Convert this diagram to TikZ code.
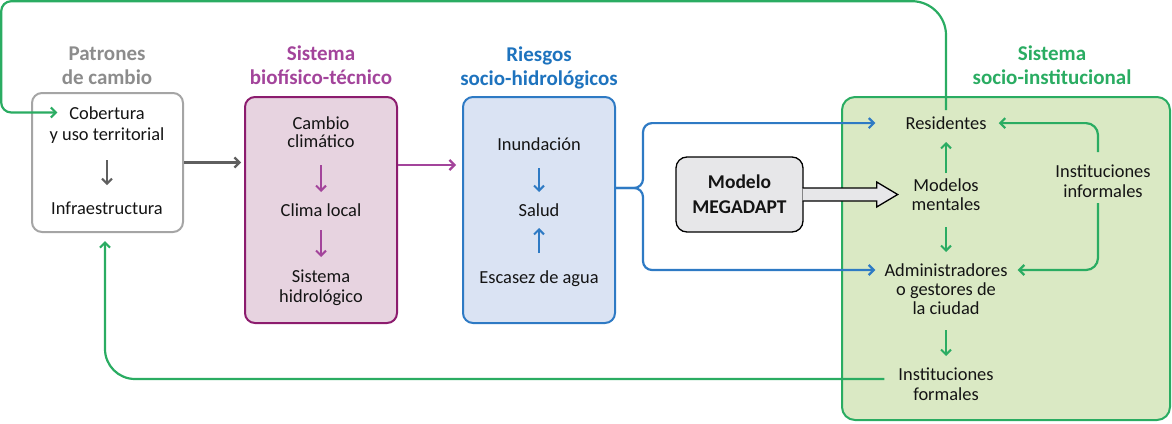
\documentclass[tikz,border=0pt]{standalone}
\usepackage{fontspec}
\setmainfont{Carlito}
\usetikzlibrary{arrows.meta,calc}
\definecolor{cGrayT}{RGB}{140,140,140}
\definecolor{cGrayB}{RGB}{165,165,165}
\definecolor{cGrayA}{RGB}{95,95,95}
\definecolor{cPurB}{RGB}{140,28,110}
\definecolor{cPurT}{RGB}{163,68,155}
\definecolor{cPurF}{RGB}{231,211,224}
\definecolor{cBluB}{RGB}{46,122,196}
\definecolor{cBluT}{RGB}{30,115,190}
\definecolor{cBluF}{RGB}{218,227,243}
\definecolor{cGrnB}{RGB}{42,172,98}
\definecolor{cGrnF}{RGB}{218,233,196}
\definecolor{cMegF}{RGB}{231,231,233}
\definecolor{cTxt}{RGB}{20,20,20}
\begin{document}
\begin{tikzpicture}[x=1pt,y=-1pt,
  sysbox/.style={draw, line width=2pt, rounded corners=10pt, inner sep=0pt},
  txt/.style={align=center, inner sep=0pt, text=cTxt, font=\fontsize{18.4}{20}\selectfont},
  ttl/.style={align=center, inner sep=0pt, font=\fontsize{21}{24}\selectfont\bfseries},
  arrtip/.style={-{Straight Barb[length=5pt,width=10pt]}},
  con/.style={line width=2.2pt, arrtip},
  inarr/.style={line width=2pt, arrtip},
]
\useasboundingbox (0,0) rectangle (1172,423);

% system boxes
\node[sysbox, draw=cGrayB, fill=white, minimum width=151pt, minimum height=139pt] (gb) at (107.5,162.5) {};
\node[sysbox, draw=cPurB, fill=cPurF, minimum width=152pt, minimum height=226pt] (pb) at (321,210) {};
\node[sysbox, draw=cBluB, fill=cBluF, minimum width=152pt, minimum height=226pt] (bb) at (539,210) {};
\node[sysbox, draw=cGrnB, fill=cGrnF, minimum width=328pt, minimum height=323pt, rounded corners=13pt] (sb) at (1006,258.5) {};
\node[sysbox, draw=black, line width=1.3pt, fill=cMegF, minimum width=127pt, minimum height=75pt, rounded corners=11pt, align=center, text=cTxt, font=\fontsize{19.5}{25}\selectfont\bfseries] (meg) at (739.5,194.5) {Modelo\\MEGADAPT};

% titles
\node[ttl, text=cGrayT] (tpat) at (107,65.3) {Patrones\\de cambio};
\node[ttl, text=cPurT] (tbio) at (321,65.3) {Sistema\\biofísico-técnico};
\node[ttl, text=cBluT] (trie) at (539,68) {Riesgos\\socio-hidrológicos};
\node[ttl, text=cGrnB] (tsoc) at (1052,65.3) {Sistema\\socio-institucional};

% texts
\node[txt, font=\fontsize{18.4}{21}\selectfont] (cob) at (107,124.6) {Cobertura\\y uso territorial};
\node[txt] (inf) at (107,208.1) {Infraestructura};
\node[txt, font=\fontsize{18.4}{18}\selectfont] (cam) at (321,132.1) {Cambio\\climático};
\node[txt] (cli) at (321,210.1) {Clima local};
\node[txt] (hid) at (321,288.2) {Sistema\\hidrológico};
\node[txt] (inu) at (539,144.1) {Inundación};
\node[txt] (sal) at (539,210.1) {Salud};
\node[txt] (esc) at (539,278.2) {Escasez de agua};
\node[txt] (res) at (946,123.1) {Residentes};
\node[txt, font=\fontsize{18.4}{19}\selectfont] (mm) at (946,194.6) {Modelos\\mentales};
\node[txt, font=\fontsize{18.4}{19}\selectfont] (adm) at (946,289.1) {Administradores\\o gestores de\\la ciudad};
\node[txt] (ifo) at (946,384.1) {Instituciones\\formales};
\node[txt] (iin) at (1103,181.1) {Instituciones\\informales};

% inner arrows
\draw[inarr, cGrayA, shorten <=35.4pt, shorten >=23.1pt] (cob.center) -- (inf.center);
\draw[inarr, cPurT, shorten <=32.9pt, shorten >=18.1pt] (cam.center) -- (cli.center);
\draw[inarr, cPurT, shorten <=19.9pt, shorten >=31.2pt] (cli.center) -- (hid.center);
\draw[inarr, cBluB, shorten <=23.9pt, shorten >=18.1pt] (inu.center) -- (sal.center);
\draw[inarr, cBluB, shorten <=25.2pt, shorten >=17.9pt] (esc.center) -- (sal.center);
\draw[inarr, cGrnB, shorten <=21.6pt, shorten >=18.9pt] (mm.center) -- (res.center);
\draw[inarr, cGrnB, shorten <=32.4pt, shorten >=37.1pt] (mm.center) -- (adm.center);
\draw[inarr, cGrnB, shorten <=40.9pt, shorten >=28.1pt] (adm.center) -- (ifo.center);

% connectors between systems
\draw[con, cGrayA, shorten >=3pt] (gb.east) -- (gb.east -| pb.west);
\path (pb.north east) ++(0,69) coordinate (p1);
\draw[con, cPurT, shorten >=6pt] (p1) -- (p1 -| bb.west);

\path (bb.north east) ++(0,92) coordinate (b0);
\path ([yshift=19.1pt]adm.center) coordinate (admL);
\draw[con, cBluB, rounded corners=9pt] (b0) -- ++(27,0) |- ($(res.west)+(-30,0)$);
\draw[con, cBluB, rounded corners=9pt] (b0) -- ++(27,0) |- ($(admL -| adm.west)+(-9,0)$);

% informal institutions
\draw[con, cGrnB, rounded corners=12pt] ($(iin.center)+(-5,-29.1)$) |- ($(res.east)+(12,0)$);
\draw[con, cGrnB, rounded corners=12pt] ($(iin.center)+(-5,21.9)$) |- ($(admL -| adm.east)+(10,0)$);

% feedback loops
\draw[con, cGrnB] ($(res.center)+(0,-13.1)$) [rounded corners=34pt] -- (res.center |- 0,1.2) [rounded corners=10pt] -- (1.2,1.2) -- (1.2,112.5) -- ($(cob.west)+(8,-12.1)$);
\draw[con, cGrnB, rounded corners=30pt] ($(ifo.west)+(-14,-5.1)$) -| ($(gb.south)+(-2.5,8)$);

% MEGADAPT block arrow
\draw[line width=1.3pt, fill=cMegF, line join=miter] ($(meg.east)+(-1,-6.5)$) -- ++(74,0) -- ++(0,-6) -- ($(meg.east)+(94,0)$) -- ($(meg.east)+(73,12.5)$) -- ++(0,-6) -- ($(meg.east)+(-1,6.5)$);
\end{tikzpicture}
\end{document}
